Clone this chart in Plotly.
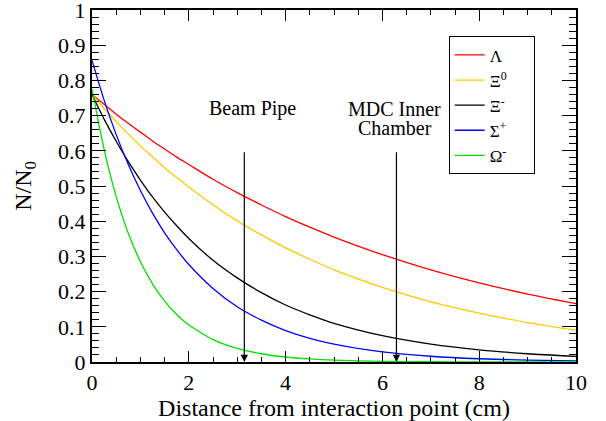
import plotly.graph_objects as go

# Distance from interaction point (cm)
x_cm = [0, 0.25, 0.5, 0.75, 1, 1.25, 1.5, 1.75, 2, 2.5, 3, 3.5, 4, 4.5, 5, 6, 7, 8, 9, 10]

# N/N0
lambda_vals = [0.760, 0.732, 0.704, 0.678, 0.653, 0.628, 0.605, 0.582, 0.561, 0.519, 0.481, 0.446,
               0.413, 0.383, 0.355, 0.305, 0.262, 0.225, 0.193, 0.166]
xi0_vals = [0.760, 0.721, 0.683, 0.648, 0.614, 0.583, 0.552, 0.524, 0.497, 0.447, 0.401, 0.361,
            0.324, 0.292, 0.262, 0.212, 0.171, 0.139, 0.112, 0.0905]
xim_vals = [0.760, 0.690, 0.627, 0.569, 0.517, 0.469, 0.426, 0.387, 0.351, 0.289, 0.239, 0.197,
            0.162, 0.134, 0.110, 0.0749, 0.0509, 0.0346, 0.0235, 0.0160]
sigp_vals = [0.857, 0.744, 0.646, 0.561, 0.487, 0.423, 0.367, 0.319, 0.277, 0.209, 0.157, 0.119,
             0.0894, 0.0674, 0.0508, 0.0289, 0.0164, 0.0093, 0.0053, 0.0030]
omega_vals = [0.775, 0.604, 0.470, 0.366, 0.285, 0.222, 0.173, 0.135, 0.105, 0.0636, 0.0386, 0.0234,
              0.0142, 0.0086, 0.0052, 0.0019, 0.0007, 0.0003, 0.0001, 0.00004]

series_names = ["Λ", "Ξ<sup>0</sup>", "Ξ<sup>-</sup>", "Σ<sup>+</sup>", "Ω<sup>-</sup>"]
series_vals = [lambda_vals, xi0_vals, xim_vals, sigp_vals, omega_vals]
series_colors = ["#ff0000", "#ffc800", "#000000", "#0000ff", "#00e000"]

# Detector boundaries (cm)
marker_x = [3.147, 6.29]
marker_top = 0.6
# label lines: (text, x, y)
label_lines = [("Beam Pipe", 3.32, 0.72), ("MDC Inner", 6.26, 0.72), ("Chamber", 6.27, 0.666)]

FONT = "Liberation Serif"
PAD = "\u00a0" * 5

fig = go.Figure()
for name, vals, col in zip(series_names, series_vals, series_colors):
    fig.add_trace(go.Scatter(x=x_cm, y=vals, mode="lines", name=name + PAD,
                             line=dict(color=col, width=1.3, shape="spline", smoothing=0.6)))

for mx in marker_x:
    fig.add_annotation(x=mx, y=0, ax=mx, ay=marker_top, xref="x", yref="y",
                       axref="x", ayref="y", showarrow=True, arrowhead=2,
                       arrowsize=1.2, arrowwidth=1.2, arrowcolor="black", text="")
for txt, lx, ly in label_lines:
    fig.add_annotation(x=lx, y=ly, xref="x", yref="y", text=txt, showarrow=False,
                       font=dict(family=FONT, size=20, color="black"))

axis_common = dict(showline=True, linecolor="black", linewidth=2, mirror="allticks",
                   ticks="inside", tickcolor="black", showgrid=False, zeroline=False,
                   automargin=False, ticklabeloverflow="allow",
                   tickfont=dict(family=FONT, size=22, color="black"))

fig.update_xaxes(range=[0, 10], dtick=2, tick0=0, ticklen=11, tickwidth=1.3,
                 minor=dict(ticks="inside", dtick=0.5, ticklen=5, tickcolor="black", tickwidth=1.3),
                 title=dict(text="Distance from interaction point (cm)",
                            font=dict(family=FONT, size=24, color="black"), standoff=0),
                 **axis_common)
fig.update_yaxes(range=[0, 1], dtick=0.1, tick0=0, ticklen=14, tickwidth=1.3,
                 minor=dict(ticks="inside", dtick=0.02, ticklen=7, tickcolor="black", tickwidth=1.3),
                 title=dict(text="N/N<sub>0</sub>",
                            font=dict(family=FONT, size=24, color="black"), standoff=20),
                 **axis_common)

fig.update_layout(
    width=606, height=421,
    margin=dict(l=92, r=30, t=10, b=59, autoexpand=False),
    plot_bgcolor="white", paper_bgcolor="white",
    legend=dict(x=0.737, y=0.925, xanchor="left", yanchor="top",
                bordercolor="black", borderwidth=1, bgcolor="white",
                font=dict(family=FONT, size=17, color="black"),
                itemwidth=30, tracegroupgap=0),
    showlegend=True,
)

fig.write_html("out.html", config={"displayModeBar": False},
               post_script="document.body.style.margin='0';document.body.style.overflow='hidden';")
